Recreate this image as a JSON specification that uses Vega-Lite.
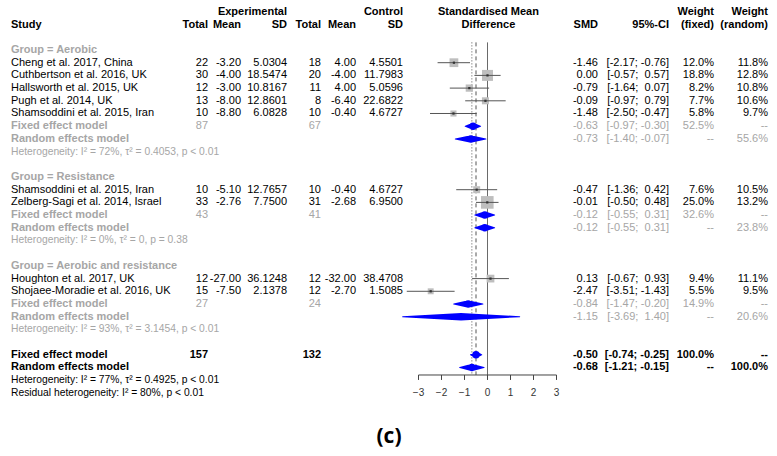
{
  "$schema": "https://vega.github.io/schema/vega-lite/v6.json",
  "width": 777,
  "height": 456,
  "autosize": {"type": "fit", "contains": "padding"},
  "padding": 0,
  "background": "white",
  "config": {
    "view": {"stroke": null},
    "axis": {"disable": true},
    "legend": {"disable": true},
    "text": {"font": "Liberation Sans", "baseline": "middle", "fontSize": 11}
  },
  "data": {"values": [
    {"row": -2, "kind": "header", "esd": "Experimental", "csd": "Control", "fh": "Standardised Mean", "wf": "Weight", "wr": "Weight"},
    {"row": -1, "kind": "header", "label": "Study", "et": "Total", "em": "Mean", "esd": "SD", "ct": "Total", "cm": "Mean", "csd": "SD", "fh": "Difference", "smd": "SMD", "ci": "95%-CI", "wf": "(fixed)", "wr": "(random)"},
    {"row": 1, "kind": "group", "label": "Group = Aerobic"},
    {"row": 2, "kind": "study", "label": "Cheng et al. 2017, China", "et": "22", "em": "-3.20", "esd": "5.0304", "ct": "18", "cm": "4.00", "csd": "4.5501", "smd": "-1.46", "ci": "[-2.17; -0.76]", "wf": "12.0%", "wr": "11.8%", "est": -1.46, "lo": -2.17, "hi": -0.76, "w": 12.0},
    {"row": 3, "kind": "study", "label": "Cuthbertson et al. 2016, UK", "et": "30", "em": "-4.00", "esd": "18.5474", "ct": "20", "cm": "-4.00", "csd": "11.7983", "smd": "0.00", "ci": "[-0.57;\u00a0\u00a00.57]", "wf": "18.8%", "wr": "12.8%", "est": 0.0, "lo": -0.57, "hi": 0.57, "w": 18.8},
    {"row": 4, "kind": "study", "label": "Hallsworth et al. 2015, UK", "et": "12", "em": "-3.00", "esd": "10.8167", "ct": "11", "cm": "4.00", "csd": "5.0596", "smd": "-0.79", "ci": "[-1.64;\u00a0\u00a00.07]", "wf": "8.2%", "wr": "10.8%", "est": -0.79, "lo": -1.64, "hi": 0.07, "w": 8.2},
    {"row": 5, "kind": "study", "label": "Pugh et al. 2014, UK", "et": "13", "em": "-8.00", "esd": "12.8601", "ct": "8", "cm": "-6.40", "csd": "22.6822", "smd": "-0.09", "ci": "[-0.97;\u00a0\u00a00.79]", "wf": "7.7%", "wr": "10.6%", "est": -0.09, "lo": -0.97, "hi": 0.79, "w": 7.7},
    {"row": 6, "kind": "study", "label": "Shamsoddini et al. 2015, Iran", "et": "10", "em": "-8.80", "esd": "6.0828", "ct": "10", "cm": "-0.40", "csd": "4.6727", "smd": "-1.48", "ci": "[-2.50; -0.47]", "wf": "5.8%", "wr": "9.7%", "est": -1.48, "lo": -2.50, "hi": -0.47, "w": 5.8},
    {"row": 7, "kind": "fixed", "label": "Fixed effect model", "et": "87", "ct": "67", "smd": "-0.63", "ci": "[-0.97; -0.30]", "wf": "52.5%", "wr": "--", "est": -0.63, "lo": -0.97, "hi": -0.30},
    {"row": 8, "kind": "random", "label": "Random effects model", "smd": "-0.73", "ci": "[-1.40; -0.07]", "wf": "--", "wr": "55.6%", "est": -0.73, "lo": -1.40, "hi": -0.07},
    {"row": 9, "kind": "het", "label": "Heterogeneity: I² = 72%, τ² = 0.4053, p < 0.01"},
    {"row": 11, "kind": "group", "label": "Group = Resistance"},
    {"row": 12, "kind": "study", "label": "Shamsoddini et al. 2015, Iran", "et": "10", "em": "-5.10", "esd": "12.7657", "ct": "10", "cm": "-0.40", "csd": "4.6727", "smd": "-0.47", "ci": "[-1.36;\u00a0\u00a00.42]", "wf": "7.6%", "wr": "10.5%", "est": -0.47, "lo": -1.36, "hi": 0.42, "w": 7.6},
    {"row": 13, "kind": "study", "label": "Zelberg-Sagi et al. 2014, Israel", "et": "33", "em": "-2.76", "esd": "7.7500", "ct": "31", "cm": "-2.68", "csd": "6.9500", "smd": "-0.01", "ci": "[-0.50;\u00a0\u00a00.48]", "wf": "25.0%", "wr": "13.2%", "est": -0.01, "lo": -0.50, "hi": 0.48, "w": 25.0},
    {"row": 14, "kind": "fixed", "label": "Fixed effect model", "et": "43", "ct": "41", "smd": "-0.12", "ci": "[-0.55;\u00a0\u00a00.31]", "wf": "32.6%", "wr": "--", "est": -0.12, "lo": -0.55, "hi": 0.31},
    {"row": 15, "kind": "random", "label": "Random effects model", "smd": "-0.12", "ci": "[-0.55;\u00a0\u00a00.31]", "wf": "--", "wr": "23.8%", "est": -0.12, "lo": -0.55, "hi": 0.31},
    {"row": 16, "kind": "het", "label": "Heterogeneity: I² = 0%, τ² = 0, p = 0.38"},
    {"row": 18, "kind": "group", "label": "Group = Aerobic and resistance"},
    {"row": 19, "kind": "study", "label": "Houghton et al. 2017, UK", "et": "12", "em": "-27.00", "esd": "36.1248", "ct": "12", "cm": "-32.00", "csd": "38.4708", "smd": "0.13", "ci": "[-0.67;\u00a0\u00a00.93]", "wf": "9.4%", "wr": "11.1%", "est": 0.13, "lo": -0.67, "hi": 0.93, "w": 9.4},
    {"row": 20, "kind": "study", "label": "Shojaee-Moradie et al. 2016, UK", "et": "15", "em": "-7.50", "esd": "2.1378", "ct": "12", "cm": "-2.70", "csd": "1.5085", "smd": "-2.47", "ci": "[-3.51; -1.43]", "wf": "5.5%", "wr": "9.5%", "est": -2.47, "lo": -3.51, "hi": -1.43, "w": 5.5},
    {"row": 21, "kind": "fixed", "label": "Fixed effect model", "et": "27", "ct": "24", "smd": "-0.84", "ci": "[-1.47; -0.20]", "wf": "14.9%", "wr": "--", "est": -0.84, "lo": -1.47, "hi": -0.20},
    {"row": 22, "kind": "random", "label": "Random effects model", "smd": "-1.15", "ci": "[-3.69;\u00a0\u00a01.40]", "wf": "--", "wr": "20.6%", "est": -1.15, "lo": -3.69, "hi": 1.40},
    {"row": 23, "kind": "het", "label": "Heterogeneity: I² = 93%, τ² = 3.1454, p < 0.01"},
    {"row": 25, "kind": "ofixed", "label": "Fixed effect model", "et": "157", "ct": "132", "smd": "-0.50", "ci": "[-0.74; -0.25]", "wf": "100.0%", "wr": "--", "est": -0.50, "lo": -0.74, "hi": -0.25},
    {"row": 26, "kind": "orandom", "label": "Random effects model", "smd": "-0.68", "ci": "[-1.21; -0.15]", "wf": "--", "wr": "100.0%", "est": -0.68, "lo": -1.21, "hi": -0.15},
    {"row": 27, "kind": "ohet", "label": "Heterogeneity: I² = 77%, τ² = 0.4925, p < 0.01"},
    {"row": 28, "kind": "ohet", "label": "Residual heterogeneity: I² = 80%, p < 0.01"}
  ]},
  "layer": [
    {
      "transform": [{"filter": "datum.kind === 'ofixed'"}],
      "mark": {"type": "rule", "color": "#6a6a6a", "strokeWidth": 1},
      "encoding": {
        "x": {"datum": 0, "type": "quantitative", "scale": {"domain": [-21.196, 12.587], "nice": false, "zero": false}},
        "y": {"datum": 0.4, "type": "quantitative", "scale": {"domain": [-2.937, 32.969], "reverse": true, "nice": false, "zero": false}},
        "y2": {"datum": 26.59}
      }
    },
    {
      "transform": [{"filter": "datum.kind === 'ofixed'"}],
      "mark": {"type": "rule", "color": "#555555", "strokeWidth": 1, "strokeDash": [4, 3]},
      "encoding": {
        "x": {"field": "est", "type": "quantitative"},
        "y": {"datum": 0.4, "type": "quantitative"},
        "y2": {"datum": 26.59}
      }
    },
    {
      "transform": [{"filter": "datum.kind === 'orandom'"}],
      "mark": {"type": "rule", "color": "#555555", "strokeWidth": 1, "strokeDash": [1, 2]},
      "encoding": {
        "x": {"field": "est", "type": "quantitative"},
        "y": {"datum": 0.4, "type": "quantitative"},
        "y2": {"datum": 26.59}
      }
    },
    {
      "transform": [{"filter": "datum.kind === 'study'"}],
      "mark": {"type": "point", "shape": "square", "filled": true, "color": "#bebebe", "opacity": 1},
      "encoding": {
        "x": {"field": "est", "type": "quantitative"},
        "y": {"field": "row", "type": "quantitative"},
        "size": {"field": "w", "type": "quantitative", "scale": {"domain": [0, 25], "range": [0, 160]}, "legend": null}
      }
    },
    {
      "transform": [{"filter": "datum.kind === 'study'"}],
      "mark": {"type": "rule", "color": "#555555", "strokeWidth": 1},
      "encoding": {
        "x": {"field": "lo", "type": "quantitative"},
        "x2": {"field": "hi"},
        "y": {"field": "row", "type": "quantitative"}
      }
    },
    {
      "transform": [{"filter": "datum.kind === 'study'"}],
      "mark": {"type": "point", "shape": "square", "filled": true, "color": "#333333", "size": 5, "opacity": 1},
      "encoding": {
        "x": {"field": "est", "type": "quantitative"},
        "y": {"field": "row", "type": "quantitative"}
      }
    },
    {
      "transform": [
        {"filter": "indexof(['fixed','random','ofixed','orandom'], datum.kind) >= 0"},
        {"fold": ["lo", "est", "hi"], "as": ["key", "value"]}
      ],
      "mark": {"type": "trail", "color": "#0000ff", "opacity": 1},
      "encoding": {
        "x": {"field": "value", "type": "quantitative"},
        "y": {"field": "row", "type": "quantitative"},
        "detail": {"field": "row", "type": "nominal"},
        "order": {"field": "value", "type": "quantitative"},
        "size": {"condition": {"test": "datum.key === 'est'", "value": 7.5}, "value": 0}
      }
    },
    {
      "transform": [{"filter": "datum.kind === 'ofixed'"}],
      "mark": {"type": "rule", "color": "#444444", "strokeWidth": 1},
      "encoding": {
        "x": {"datum": -3, "type": "quantitative"},
        "x2": {"datum": 3},
        "y": {"datum": 26.59, "type": "quantitative"}
      }
    },
    {
      "data": {"values": [{"t": -3}, {"t": -2}, {"t": -1}, {"t": 0}, {"t": 1}, {"t": 2}, {"t": 3}]},
      "mark": {"type": "rule", "color": "#444444", "strokeWidth": 1},
      "encoding": {
        "x": {"field": "t", "type": "quantitative"},
        "y": {"datum": 26.59, "type": "quantitative"},
        "y2": {"datum": 26.98}
      }
    },
    {
      "data": {"values": [{"t": -3}, {"t": -2}, {"t": -1}, {"t": 0}, {"t": 1}, {"t": 2}, {"t": 3}]},
      "mark": {"type": "text", "color": "#333333", "fontSize": 10, "align": "center"},
      "encoding": {
        "x": {"field": "t", "type": "quantitative"},
        "y": {"datum": 28.0, "type": "quantitative"},
        "text": {"field": "t", "type": "quantitative", "format": "d"}
      }
    },
    {
      "transform": [{"filter": "indexof(['study','het','ohet'], datum.kind) >= 0"}],
      "mark": {"type": "text", "align": "left"},
      "encoding": {
        "x": {"datum": -20.717, "type": "quantitative"},
        "y": {"field": "row", "type": "quantitative"},
        "text": {"field": "label"},
        "color": {"condition": {"test": "datum.kind === 'het'", "value": "#a6a6a6"}, "value": "#000000"},
        "size": {"condition": {"test": "datum.kind === 'het' || datum.kind === 'ohet'", "value": 10.3}, "value": 11}
      }
    },
    {
      "transform": [{"filter": "isValid(datum.label) && indexof(['header','group','fixed','random','ofixed','orandom'], datum.kind) >= 0"}],
      "mark": {"type": "text", "align": "left", "fontWeight": "bold"},
      "encoding": {
        "x": {"datum": -20.717, "type": "quantitative"},
        "y": {"field": "row", "type": "quantitative"},
        "text": {"field": "label"},
        "color": {"condition": {"test": "indexof(['group','fixed','random'], datum.kind) >= 0", "value": "#a6a6a6"}, "value": "#000000"}
      }
    },
    {
      "transform": [{"filter": "isValid(datum.fh)"}],
      "mark": {"type": "text", "align": "center", "fontWeight": "bold", "color": "#000000"},
      "encoding": {
        "x": {"datum": 0.04, "type": "quantitative"},
        "y": {"field": "row", "type": "quantitative"},
        "text": {"field": "fh"}
      }
    },
    {
      "transform": [{"filter": "isValid(datum.et) && indexof(['study','fixed','random'], datum.kind) >= 0"}],
      "mark": {"type": "text", "align": "right"},
      "encoding": {"x": {"datum": -12.152, "type": "quantitative"}, "y": {"field": "row", "type": "quantitative"}, "text": {"field": "et"},
        "color": {"condition": {"test": "datum.kind !== 'study'", "value": "#a6a6a6"}, "value": "#000000"}}
    },
    {
      "transform": [{"filter": "isValid(datum.et) && indexof(['header','ofixed','orandom'], datum.kind) >= 0"}],
      "mark": {"type": "text", "align": "right", "fontWeight": "bold", "color": "#000000"},
      "encoding": {"x": {"datum": -12.152, "type": "quantitative"}, "y": {"field": "row", "type": "quantitative"}, "text": {"field": "et"}}
    },
    {
      "transform": [{"filter": "isValid(datum.em) && indexof(['study','fixed','random'], datum.kind) >= 0"}],
      "mark": {"type": "text", "align": "right"},
      "encoding": {"x": {"datum": -10.717, "type": "quantitative"}, "y": {"field": "row", "type": "quantitative"}, "text": {"field": "em"},
        "color": {"condition": {"test": "datum.kind !== 'study'", "value": "#a6a6a6"}, "value": "#000000"}}
    },
    {
      "transform": [{"filter": "isValid(datum.em) && indexof(['header','ofixed','orandom'], datum.kind) >= 0"}],
      "mark": {"type": "text", "align": "right", "fontWeight": "bold", "color": "#000000"},
      "encoding": {"x": {"datum": -10.717, "type": "quantitative"}, "y": {"field": "row", "type": "quantitative"}, "text": {"field": "em"}}
    },
    {
      "transform": [{"filter": "isValid(datum.esd) && indexof(['study','fixed','random'], datum.kind) >= 0"}],
      "mark": {"type": "text", "align": "right"},
      "encoding": {"x": {"datum": -8.717, "type": "quantitative"}, "y": {"field": "row", "type": "quantitative"}, "text": {"field": "esd"},
        "color": {"condition": {"test": "datum.kind !== 'study'", "value": "#a6a6a6"}, "value": "#000000"}}
    },
    {
      "transform": [{"filter": "isValid(datum.esd) && indexof(['header','ofixed','orandom'], datum.kind) >= 0"}],
      "mark": {"type": "text", "align": "right", "fontWeight": "bold", "color": "#000000"},
      "encoding": {"x": {"datum": -8.717, "type": "quantitative"}, "y": {"field": "row", "type": "quantitative"}, "text": {"field": "esd"}}
    },
    {
      "transform": [{"filter": "isValid(datum.ct) && indexof(['study','fixed','random'], datum.kind) >= 0"}],
      "mark": {"type": "text", "align": "right"},
      "encoding": {"x": {"datum": -7.239, "type": "quantitative"}, "y": {"field": "row", "type": "quantitative"}, "text": {"field": "ct"},
        "color": {"condition": {"test": "datum.kind !== 'study'", "value": "#a6a6a6"}, "value": "#000000"}}
    },
    {
      "transform": [{"filter": "isValid(datum.ct) && indexof(['header','ofixed','orandom'], datum.kind) >= 0"}],
      "mark": {"type": "text", "align": "right", "fontWeight": "bold", "color": "#000000"},
      "encoding": {"x": {"datum": -7.239, "type": "quantitative"}, "y": {"field": "row", "type": "quantitative"}, "text": {"field": "ct"}}
    },
    {
      "transform": [{"filter": "isValid(datum.cm) && indexof(['study','fixed','random'], datum.kind) >= 0"}],
      "mark": {"type": "text", "align": "right"},
      "encoding": {"x": {"datum": -5.717, "type": "quantitative"}, "y": {"field": "row", "type": "quantitative"}, "text": {"field": "cm"},
        "color": {"condition": {"test": "datum.kind !== 'study'", "value": "#a6a6a6"}, "value": "#000000"}}
    },
    {
      "transform": [{"filter": "isValid(datum.cm) && indexof(['header','ofixed','orandom'], datum.kind) >= 0"}],
      "mark": {"type": "text", "align": "right", "fontWeight": "bold", "color": "#000000"},
      "encoding": {"x": {"datum": -5.717, "type": "quantitative"}, "y": {"field": "row", "type": "quantitative"}, "text": {"field": "cm"}}
    },
    {
      "transform": [{"filter": "isValid(datum.csd) && indexof(['study','fixed','random'], datum.kind) >= 0"}],
      "mark": {"type": "text", "align": "right"},
      "encoding": {"x": {"datum": -3.674, "type": "quantitative"}, "y": {"field": "row", "type": "quantitative"}, "text": {"field": "csd"},
        "color": {"condition": {"test": "datum.kind !== 'study'", "value": "#a6a6a6"}, "value": "#000000"}}
    },
    {
      "transform": [{"filter": "isValid(datum.csd) && indexof(['header','ofixed','orandom'], datum.kind) >= 0"}],
      "mark": {"type": "text", "align": "right", "fontWeight": "bold", "color": "#000000"},
      "encoding": {"x": {"datum": -3.674, "type": "quantitative"}, "y": {"field": "row", "type": "quantitative"}, "text": {"field": "csd"}}
    },
    {
      "transform": [{"filter": "isValid(datum.smd) && indexof(['study','fixed','random'], datum.kind) >= 0"}],
      "mark": {"type": "text", "align": "right"},
      "encoding": {"x": {"datum": 4.804, "type": "quantitative"}, "y": {"field": "row", "type": "quantitative"}, "text": {"field": "smd"},
        "color": {"condition": {"test": "datum.kind !== 'study'", "value": "#a6a6a6"}, "value": "#000000"}}
    },
    {
      "transform": [{"filter": "isValid(datum.smd) && indexof(['header','ofixed','orandom'], datum.kind) >= 0"}],
      "mark": {"type": "text", "align": "right", "fontWeight": "bold", "color": "#000000"},
      "encoding": {"x": {"datum": 4.804, "type": "quantitative"}, "y": {"field": "row", "type": "quantitative"}, "text": {"field": "smd"}}
    },
    {
      "transform": [{"filter": "isValid(datum.ci) && indexof(['study','fixed','random'], datum.kind) >= 0"}],
      "mark": {"type": "text", "align": "right"},
      "encoding": {"x": {"datum": 7.891, "type": "quantitative"}, "y": {"field": "row", "type": "quantitative"}, "text": {"field": "ci"},
        "color": {"condition": {"test": "datum.kind !== 'study'", "value": "#a6a6a6"}, "value": "#000000"}}
    },
    {
      "transform": [{"filter": "isValid(datum.ci) && indexof(['header','ofixed','orandom'], datum.kind) >= 0"}],
      "mark": {"type": "text", "align": "right", "fontWeight": "bold", "color": "#000000"},
      "encoding": {"x": {"datum": 7.891, "type": "quantitative"}, "y": {"field": "row", "type": "quantitative"}, "text": {"field": "ci"}}
    },
    {
      "transform": [{"filter": "isValid(datum.wf) && indexof(['study','fixed','random'], datum.kind) >= 0"}],
      "mark": {"type": "text", "align": "right"},
      "encoding": {"x": {"datum": 9.848, "type": "quantitative"}, "y": {"field": "row", "type": "quantitative"}, "text": {"field": "wf"},
        "color": {"condition": {"test": "datum.kind !== 'study'", "value": "#a6a6a6"}, "value": "#000000"}}
    },
    {
      "transform": [{"filter": "isValid(datum.wf) && indexof(['header','ofixed','orandom'], datum.kind) >= 0"}],
      "mark": {"type": "text", "align": "right", "fontWeight": "bold", "color": "#000000"},
      "encoding": {"x": {"datum": 9.848, "type": "quantitative"}, "y": {"field": "row", "type": "quantitative"}, "text": {"field": "wf"}}
    },
    {
      "transform": [{"filter": "isValid(datum.wr) && indexof(['study','fixed','random'], datum.kind) >= 0"}],
      "mark": {"type": "text", "align": "right"},
      "encoding": {"x": {"datum": 12.196, "type": "quantitative"}, "y": {"field": "row", "type": "quantitative"}, "text": {"field": "wr"},
        "color": {"condition": {"test": "datum.kind !== 'study'", "value": "#a6a6a6"}, "value": "#000000"}}
    },
    {
      "transform": [{"filter": "isValid(datum.wr) && indexof(['header','ofixed','orandom'], datum.kind) >= 0"}],
      "mark": {"type": "text", "align": "right", "fontWeight": "bold", "color": "#000000"},
      "encoding": {"x": {"datum": 12.196, "type": "quantitative"}, "y": {"field": "row", "type": "quantitative"}, "text": {"field": "wr"}}
    },
    {
      "data": {"values": [{"cap": "(c)"}]},
      "mark": {"type": "text", "align": "center", "font": "Open Sans", "fontWeight": "bold", "fontSize": 21, "color": "#000000"},
      "encoding": {
        "x": {"datum": -4.283, "type": "quantitative"},
        "y": {"datum": 31.47, "type": "quantitative"},
        "text": {"field": "cap"}
      }
    }
  ]
}
